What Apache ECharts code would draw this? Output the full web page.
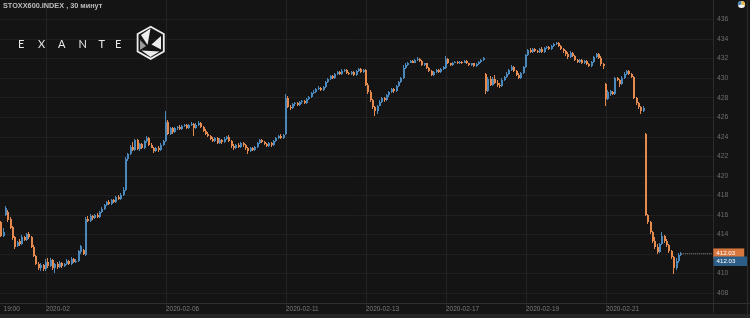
<!DOCTYPE html>
<html><head><meta charset="utf-8">
<script src="https://cdn.jsdelivr.net/npm/echarts@6/dist/echarts.min.js"></script>
<style>html,body{margin:0;padding:0;background:#141414;}#c{width:750px;height:318px;}</style>
</head><body><div id="c"></div>
<script>
// ---- data: 30-minute bars, each [open, close, low, high] ----
const lateTimes = ['18:30', '19:00'];
const sessionTimes = ['11:00','11:30','12:00','12:30','13:00','13:30','14:00','14:30','15:00','15:30','16:00','16:30','17:00','17:30','18:00','18:30','19:00'];

const jan30 = [[415.3,413.8,413.7,415.4],[413.8,414.3,413.7,414.7]];
const jan31 = [[416.0,416.7,415.9,416.9],[416.3,415.5,415.3,416.5],[415.6,414.7,414.6,415.8],[414.8,413.6,413.4,414.9],[413.7,412.7,412.5,413.8],[412.8,413.2,412.7,413.3],[413.3,413.0,412.8,413.5],[413.0,413.7,412.9,413.9],[413.7,413.4,413.3,413.8],[413.4,414.0,413.3,414.1],[414.0,413.7,413.5,414.2],[413.7,412.7,412.6,413.8],[412.7,411.8,411.7,412.9],[411.8,411.0,410.9,411.9],[411.0,410.6,410.4,411.2],[410.6,410.9,410.3,411.1],[410.9,410.5,410.3,411.0]];
const feb03 = [[410.5,411.2,410.3,411.5],[411.2,410.8,410.6,411.6],[410.8,411.4,410.7,411.6],[411.4,410.6,410.4,411.5],[410.6,411.0,410.1,411.1],[411.0,410.7,410.5,411.2],[410.7,411.1,410.6,411.3],[411.1,410.8,410.6,411.2],[410.8,411.0,410.7,411.1],[411.0,411.3,410.9,411.5],[411.3,411.0,410.9,411.4],[411.0,411.5,410.9,411.7],[411.5,411.2,411.1,411.6],[411.2,411.3,411.1,411.5],[411.3,412.3,411.2,412.4],[412.2,412.8,412.0,412.9],[412.4,412.0,411.9,412.5]];
const feb04 = [[411.9,415.6,411.8,415.8],[415.6,415.4,415.3,415.9],[415.4,415.9,415.3,416.1],[415.9,415.7,415.5,416.0],[415.7,416.0,415.6,416.1],[416.0,415.8,415.7,416.2],[415.8,416.3,415.7,416.4],[416.3,416.6,416.2,416.8],[416.6,417.0,416.5,417.1],[417.0,417.3,416.9,417.4],[417.3,417.1,417.0,417.5],[417.1,417.5,417.0,417.6],[417.5,417.3,417.2,417.6],[417.3,417.8,417.2,417.9],[417.8,417.6,417.5,418.0],[417.6,418.0,417.5,418.2],[418.0,418.5,417.9,418.9]];
const feb05 = [[418.5,421.7,418.4,421.9],[421.7,422.2,421.5,422.3],[422.2,423.0,422.1,423.2],[423.0,422.6,422.5,423.5],[422.6,423.7,422.5,423.8],[423.7,422.7,422.6,423.8],[422.7,423.3,422.5,423.4],[423.3,422.8,422.7,423.4],[422.8,423.6,422.7,423.7],[423.6,423.9,423.4,424.1],[423.9,423.2,423.1,424.0],[423.2,422.9,422.8,423.4],[422.9,422.5,422.3,423.0],[422.5,422.9,422.4,423.0],[422.9,422.6,422.4,423.1],[422.6,423.2,422.5,423.4],[423.2,423.6,423.1,423.7]];
const feb06 = [[423.6,425.5,423.5,426.6],[425.5,424.3,424.2,425.7],[424.3,424.9,424.2,425.0],[424.9,424.5,424.3,425.0],[424.5,424.9,424.4,425.0],[424.9,425.0,424.7,425.1],[425.0,424.8,424.7,425.2],[424.8,425.1,424.7,425.2],[425.1,425.2,425.0,425.3],[425.2,424.9,424.8,425.3],[424.9,425.2,424.8,425.3],[425.2,425.3,425.1,425.5],[425.3,424.9,424.1,425.4],[424.9,425.2,424.8,425.4],[425.2,425.4,425.1,425.6],[425.4,425.0,424.9,425.5],[425.0,424.6,424.5,425.1]];
const feb07 = [[424.6,424.3,424.2,424.8],[424.3,424.1,424.0,424.5],[424.1,423.8,423.7,424.2],[423.8,423.6,423.5,424.0],[423.6,423.9,423.5,424.0],[423.9,423.4,423.3,424.0],[423.4,423.7,423.3,423.9],[423.7,423.5,423.3,423.8],[423.5,423.8,423.4,424.0],[423.8,424.0,423.7,424.1],[424.0,423.6,423.5,424.2],[423.6,423.1,422.9,423.7],[423.1,422.8,422.6,423.3],[422.8,423.2,422.7,423.3],[423.2,423.0,422.9,423.4],[423.0,423.4,422.9,423.5],[423.4,423.2,423.0,423.5]];
const feb10 = [[423.2,422.8,422.6,423.3],[422.8,422.5,422.2,423.0],[422.5,422.9,422.4,423.0],[422.9,422.6,422.5,423.0],[422.6,423.0,422.5,423.1],[423.0,423.4,422.9,423.5],[423.4,423.7,423.3,423.8],[423.7,423.5,423.4,423.8],[423.5,423.3,423.2,423.6],[423.3,423.1,423.0,423.4],[423.1,423.4,423.0,423.5],[423.4,423.2,423.0,423.5],[423.2,423.6,423.1,423.7],[423.6,423.9,423.5,424.0],[423.9,424.1,423.8,424.2],[424.1,423.9,423.8,424.3],[423.9,424.2,423.8,424.3]];
const feb11 = [[424.3,428.0,424.2,428.4],[428.0,427.0,426.9,428.2],[427.0,426.9,426.7,427.3],[426.9,427.4,426.8,427.5],[427.4,427.5,427.2,427.6],[427.5,427.3,427.2,427.6],[427.3,427.6,427.2,427.7],[427.6,427.7,427.4,427.8],[427.7,427.5,427.4,427.8],[427.5,427.9,427.4,428.0],[427.9,428.1,427.8,428.2],[428.1,428.5,428.0,428.6],[428.5,428.6,428.4,428.8],[428.6,428.9,428.5,429.0],[428.9,429.0,428.8,429.2],[429.0,428.8,428.7,429.1],[428.8,429.1,428.7,429.2]];
const feb12 = [[429.1,429.6,429.0,429.7],[429.6,429.9,429.5,430.0],[429.9,430.2,429.8,430.3],[430.2,430.0,429.9,430.3],[430.0,430.4,429.9,430.5],[430.4,430.6,430.3,430.7],[430.6,430.4,430.3,430.7],[430.4,430.7,430.3,430.9],[430.7,430.8,430.6,430.9],[430.8,430.5,430.4,430.9],[430.5,430.4,430.3,430.6],[430.4,430.6,430.3,430.7],[430.6,430.3,430.2,430.7],[430.3,430.7,430.2,430.8],[430.7,430.9,430.6,431.0],[430.9,430.6,430.5,431.0],[430.6,430.8,430.5,430.9]];
const feb13 = [[430.8,429.3,429.2,430.9],[429.3,428.6,428.4,429.5],[428.6,427.8,427.6,428.8],[427.8,427.0,426.8,427.9],[427.0,426.6,426.1,427.2],[426.6,427.2,426.3,427.3],[427.2,427.6,427.1,427.8],[427.6,428.0,427.5,428.1],[428.0,427.8,427.6,428.1],[427.8,428.3,427.7,428.4],[428.3,428.6,428.1,428.7],[428.6,428.9,428.5,429.0],[428.9,428.7,428.5,429.0],[428.7,429.2,428.6,429.3],[429.2,429.6,429.1,429.7],[429.6,430.0,429.5,430.1],[430.0,431.0,429.9,431.3]];
const feb14 = [[431.0,431.3,430.9,431.5],[431.3,431.6,431.2,431.7],[431.6,431.8,431.5,431.9],[431.8,431.6,431.5,431.9],[431.6,431.9,431.5,432.0],[431.9,432.0,431.8,432.2],[432.0,431.8,431.7,432.1],[431.8,431.3,431.2,431.9],[431.3,431.5,431.2,431.6],[431.5,431.0,430.9,431.6],[431.0,430.7,430.6,431.1],[430.7,430.3,430.2,430.8],[430.3,430.6,430.2,430.7],[430.6,430.8,430.5,430.9],[430.8,430.6,430.5,430.9],[430.6,430.9,430.5,431.0],[430.9,431.1,430.8,431.2]];
const feb17 = [[431.0,432.0,430.9,432.3],[432.0,431.5,431.4,432.1],[431.5,431.3,431.2,431.6],[431.3,431.6,431.2,431.7],[431.6,431.7,431.5,431.8],[431.7,431.5,431.4,431.8],[431.5,431.7,431.4,431.8],[431.7,431.6,431.4,431.8],[431.6,431.8,431.5,431.9],[431.8,431.5,431.4,431.9],[431.5,431.3,431.2,431.6],[431.3,431.5,431.2,431.6],[431.5,431.2,431.1,431.6],[431.2,431.4,431.1,431.5],[431.4,431.7,431.3,431.8],[431.7,431.9,431.6,432.0],[431.9,432.1,431.8,432.2]];
const feb18 = [[430.4,428.7,428.4,430.5],[428.7,429.9,428.6,430.1],[429.9,429.3,429.2,430.2],[429.3,429.9,429.2,430.1],[429.9,429.5,429.4,430.3],[429.5,429.3,429.1,429.8],[429.3,429.2,429.0,429.5],[429.2,429.8,429.1,430.0],[429.8,430.1,429.7,430.2],[430.1,430.4,430.0,430.6],[430.4,430.8,430.3,430.9],[430.8,431.1,430.7,431.3],[431.1,430.7,430.6,431.2],[430.7,430.3,430.2,430.8],[430.3,430.0,429.9,430.5],[430.0,430.5,429.9,430.6],[430.5,431.1,430.4,431.2]];
const feb19 = [[431.1,432.4,431.0,432.5],[432.4,432.9,432.3,433.0],[432.9,432.7,432.6,433.1],[432.7,433.0,432.6,433.1],[433.0,432.8,432.7,433.1],[432.8,432.7,432.6,432.9],[432.7,433.0,432.6,433.1],[433.0,432.7,432.6,433.2],[432.7,433.1,432.6,433.2],[433.1,433.2,433.0,433.3],[433.2,433.0,432.9,433.3],[433.0,433.3,432.9,433.4],[433.3,433.5,433.2,433.6],[433.5,433.6,433.4,433.7],[433.6,433.3,433.2,433.7],[433.3,433.0,432.9,433.4],[433.0,432.8,432.6,433.1]];
const feb20 = [[432.8,432.5,432.3,432.9],[432.5,432.2,432.0,432.7],[432.2,432.6,432.1,432.8],[432.6,432.3,432.2,432.7],[432.3,431.9,431.8,432.4],[431.9,431.7,431.6,432.0],[431.7,431.9,431.6,432.0],[431.9,431.5,431.4,432.0],[431.5,431.8,431.4,431.9],[431.8,431.4,431.3,431.9],[431.4,431.2,431.1,431.5],[431.2,431.7,431.1,431.8],[431.7,432.2,431.6,432.3],[432.2,432.5,432.1,432.6],[432.5,432.1,432.0,432.6],[432.1,431.4,431.2,432.3],[431.4,431.2,430.9,431.5]];
const feb21 = [[429.4,427.9,427.1,429.5],[427.9,428.6,427.8,428.8],[428.4,428.7,428.2,428.8],[428.6,428.4,428.3,428.7],[428.4,430.0,428.3,430.1],[430.0,429.8,429.7,430.1],[429.8,429.4,429.1,429.9],[429.4,430.0,429.3,430.2],[430.0,430.4,429.9,430.6],[430.4,430.7,430.3,430.8],[430.7,430.4,430.3,430.8],[430.4,430.1,430.0,430.5],[430.1,428.0,427.9,430.2],[428.0,427.5,427.3,428.1],[427.5,427.0,426.8,427.6],[427.0,426.6,426.3,427.1],[426.6,426.9,426.5,427.1]];
const feb24 = [[424.3,416.0,415.9,424.4],[416.0,415.3,415.1,416.1],[415.3,414.2,414.0,415.4],[414.2,413.3,413.1,414.4],[413.3,412.7,412.5,413.7],[412.7,412.2,412.0,413.0],[412.2,413.0,412.1,413.1],[413.0,413.8,412.9,414.3],[413.8,413.3,413.1,413.9],[413.3,412.9,412.7,413.5],[412.9,412.3,412.1,413.0],[412.3,411.7,411.5,412.4],[411.7,410.6,410.0,411.8],[410.6,411.3,410.4,411.6],[411.3,411.9,411.1,412.1],[411.9,412.03,411.8,412.2]];

const tickAt   = ['2020-01-30 19:00','2020-02-03 11:00','2020-02-06 11:00','2020-02-11 11:00','2020-02-13 11:00','2020-02-17 11:00','2020-02-19 11:00','2020-02-21 11:00'];
const tickText = ['19:00','2020-02','2020-02-06','2020-02-11','2020-02-13','2020-02-17','2020-02-19','2020-02-21'];

const dayBlocks = [
  ['2020-01-30', jan30, lateTimes], ['2020-01-31', jan31, sessionTimes], ['2020-02-03', feb03, sessionTimes],
  ['2020-02-04', feb04, sessionTimes], ['2020-02-05', feb05, sessionTimes], ['2020-02-06', feb06, sessionTimes],
  ['2020-02-07', feb07, sessionTimes], ['2020-02-10', feb10, sessionTimes], ['2020-02-11', feb11, sessionTimes],
  ['2020-02-12', feb12, sessionTimes], ['2020-02-13', feb13, sessionTimes], ['2020-02-14', feb14, sessionTimes],
  ['2020-02-17', feb17, sessionTimes], ['2020-02-18', feb18, sessionTimes], ['2020-02-19', feb19, sessionTimes],
  ['2020-02-20', feb20, sessionTimes], ['2020-02-21', feb21, sessionTimes], ['2020-02-24', feb24, sessionTimes]
];

// ---- build ----
const cats = [], rows = [];
dayBlocks.forEach(([d, bars, times]) => bars.forEach((b, i) => {
  rows.push([cats.length, b[0], b[1], b[2], b[3]]);
  cats.push(d + ' ' + times[i]);
}));
const lastIdx = rows.length - 1;
const lastClose = rows[lastIdx][2];
const TOTAL_SLOTS = 303;
for (let i = 0; cats.length < TOTAL_SLOTS; i++) cats.push('pad' + i);
const tickMap = {};
tickAt.forEach((t, i) => { tickMap[t] = tickText[i]; });

const UP = '#4b88bb', DOWN = '#e48a4e';
const FONT = '"Liberation Sans", Arial, sans-serif';

function renderCandle(params, api) {
  const i = api.value(0), o = api.value(1), c = api.value(2), lo = api.value(3), hi = api.value(4);
  const pO = api.coord([i, o]), pC = api.coord([i, c]), pL = api.coord([i, lo]), pH = api.coord([i, hi]);
  const bx = Math.round(pO[0] - 1);
  const top = Math.round(Math.min(pO[1], pC[1]));
  const bot = Math.max(top + 1, Math.round(Math.max(pO[1], pC[1])));
  const wTop = Math.round(pH[1]), wBot = Math.max(wTop + 1, Math.round(pL[1]));
  const color = c >= o ? UP : DOWN;
  return {
    type: 'group',
    children: [
      { type: 'rect', shape: { x: bx, y: wTop, width: 1, height: wBot - wTop }, style: { fill: color } },
      { type: 'rect', shape: { x: bx, y: top, width: 2, height: bot - top }, style: { fill: color } }
    ]
  };
}

const chart = echarts.init(document.getElementById('c'), null, { renderer: 'canvas' });
chart.setOption({
  backgroundColor: '#141414',
  animation: false,
  grid: { left: 0, right: 37, top: -17.1, bottom: 5.4 },
  xAxis: {
    type: 'category', data: cats, boundaryGap: true, offset: -9.6,
    axisLine: { show: false }, axisTick: { show: false },
    axisLabel: {
      interval: (i, v) => tickMap[v] !== undefined,
      formatter: v => tickMap[v] || '',
      align: 'left', color: '#7d7d7d', fontSize: 6.5, margin: 3, fontFamily: FONT
    },
    splitLine: {
      show: true, alignWithLabel: true,
      interval: (i, v) => tickMap[v] !== undefined && v !== tickAt[0],
      lineStyle: { color: '#232323', width: 1 }
    }
  },
  yAxis: {
    type: 'value', position: 'right', min: 406, max: 438, interval: 2,
    axisLine: { show: true, lineStyle: { color: '#2b2b2b' } }, axisTick: { show: false },
    axisLabel: { color: '#6e6e6e', fontSize: 6.8, margin: 4, showMinLabel: false, showMaxLabel: false, fontFamily: FONT },
    splitLine: { show: true, showMinLine: false, showMaxLine: false, lineStyle: { color: '#1f1f1f', width: 1 } }
  },
  series: [
    {
      type: 'custom', data: rows, renderItem: renderCandle,
      encode: { x: 0, y: [1, 2, 3, 4] }, clip: true, silent: true
    },
    {
      type: 'line', data: [[lastIdx, lastClose], [TOTAL_SLOTS - 1, lastClose]],
      symbol: 'none', silent: true,
      lineStyle: { type: 'dotted', color: '#8a8a8a', width: 1 },
      endLabel: {
        show: true, distance: 1.5,
        formatter: () => lastClose.toFixed(2),
        backgroundColor: '#d8773d', color: '#ffffff', fontSize: 6.2, fontFamily: FONT,
        padding: [2.5, 9, 2, 3]
      }
    }
  ],
  graphic: [
    { type: 'line', z: 50, shape: { x1: 0, y1: 303.5, x2: 750, y2: 303.5 }, style: { stroke: '#303030', lineWidth: 1 } },
    { type: 'rect', z: 50, shape: { x: 0, y: 314, width: 750, height: 4 }, style: { fill: '#262626' } },
    { type: 'line', z: 50, shape: { x1: 747.5, y1: 0, x2: 747.5, y2: 318 }, style: { stroke: '#2b2b2b', lineWidth: 1 } },
    { type: 'text', z: 60, x: 3, y: 2, style: { text: 'STOXX600.INDEX , 30 минут', fill: '#bdbdbd', font: 'bold 7.3px ' + FONT, align: 'left', verticalAlign: 'top' } },
    { type: 'text', z: 60, x: 18, y: 39.3, style: { text: 'E', fill: '#e8e8e8', font: '11px Lato', verticalAlign: 'top' } },
    { type: 'text', z: 60, x: 38, y: 39.3, style: { text: 'X', fill: '#e8e8e8', font: '11px Lato', verticalAlign: 'top' } },
    { type: 'text', z: 60, x: 58, y: 39.3, style: { text: 'A', fill: '#e8e8e8', font: '11px Lato', verticalAlign: 'top' } },
    { type: 'text', z: 60, x: 78.5, y: 39.3, style: { text: 'N', fill: '#e8e8e8', font: '11px Lato', verticalAlign: 'top' } },
    { type: 'text', z: 60, x: 98.5, y: 39.3, style: { text: 'T', fill: '#e8e8e8', font: '11px Lato', verticalAlign: 'top' } },
    { type: 'text', z: 60, x: 115, y: 39.3, style: { text: 'E', fill: '#e8e8e8', font: '11px Lato', verticalAlign: 'top' } },
    { type: 'polygon', z: 60, shape: { points: [[150.7, 26.8], [163.8, 34], [163.8, 51.5], [150.7, 58.9], [137.6, 51.5], [137.6, 34]] }, style: { fill: 'none', stroke: '#ececec', lineWidth: 1.8 } },
    { type: 'polygon', z: 60, shape: { points: [[141, 35], [150.5, 28.5], [147.5, 45]] }, style: { fill: '#ececec' } },
    { type: 'polygon', z: 60, shape: { points: [[161, 36], [161, 49.5], [151.5, 44.5]] }, style: { fill: '#ececec' } },
    { type: 'polygon', z: 60, shape: { points: [[141.5, 50.5], [159.5, 51.5], [150.5, 57]] }, style: { fill: '#ececec' } },
    { type: 'polygon', z: 60, shape: { points: [[140, 40], [146, 46], [140, 50]] }, style: { fill: '#9a9a9a' } },
    { type: 'circle', z: 60, shape: { cx: 741.5, cy: 4.5, r: 3.6 }, style: { fill: '#f2f2f2' } },
    { type: 'sector', z: 61, shape: { cx: 741.5, cy: 4.5, r: 3.6, r0: 0, startAngle: Math.PI * 0.9, endAngle: Math.PI * 1.5 }, style: { fill: '#4a87ba' } },
    { type: 'sector', z: 61, shape: { cx: 741.5, cy: 4.5, r: 3.6, r0: 0, startAngle: Math.PI * 1.5, endAngle: Math.PI * 2.1 }, style: { fill: '#e9b64a' } },
    { type: 'rect', z: 60, shape: { x: 713.5, y: 256.5, width: 33.5, height: 9.5 }, style: { fill: '#2b5d86' } },
    { type: 'text', z: 61, x: 716.5, y: 261.5, style: { text: lastClose.toFixed(2), fill: '#ffffff', font: '6.2px ' + FONT, verticalAlign: 'middle' } }
  ]
});
</script></body></html>
